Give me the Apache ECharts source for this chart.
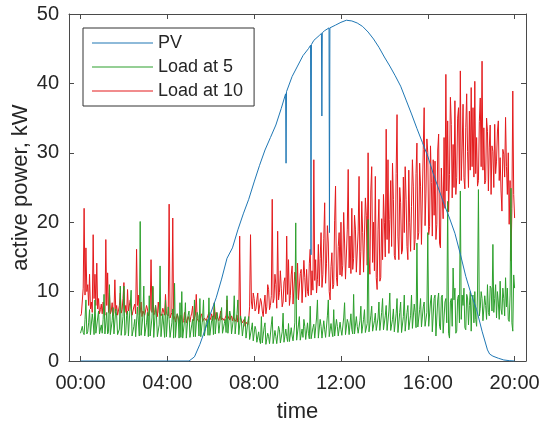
<!DOCTYPE html>
<html>
<head>
<meta charset="utf-8">
<script src="https://cdn.jsdelivr.net/npm/echarts@6/dist/echarts.min.js"></script>
<style>
html,body{margin:0;padding:0;background:#fff;}
#chart{width:540px;height:424px;}
</style>
</head>
<body>
<div id="chart"></div>
<script>
// ---- data (hours of day, kW) ----
const xTickHours = [0, 4, 8, 12, 16, 20];
const xTickLabels = ['00:00', '04:00', '08:00', '12:00', '16:00', '20:00'];
const yTicks = [0, 10, 20, 30, 40, 50];
const seriesNames = ['PV', 'Load at 5', 'Load at 10'];

// PV: sample times (h) and power (kW)
const pvTimes = [0, 5.0, 5.25, 5.5, 5.75, 6.0, 6.25, 6.5, 6.75, 7.0, 7.25, 7.5, 7.75, 8.0, 8.25, 8.5, 8.75, 9.0, 9.25, 9.45, 9.47, 9.49,
  9.75, 10.0, 10.25, 10.5, 10.6, 10.62, 10.64, 10.75, 11.0, 11.1, 11.12, 11.14, 11.25, 11.45, 11.47, 11.49, 11.75, 12.0, 12.25, 12.5,
  12.75, 13.0, 13.25, 13.5, 13.75, 14.0, 14.25, 14.5, 14.75, 15.0, 15.25, 15.5, 15.75, 16.0, 16.25, 16.5, 16.75, 17.0, 17.25, 17.5,
  17.75, 18.0, 18.25, 18.5, 18.75, 18.85, 19.0, 19.25, 19.5, 19.75, 20.0];
const pvValues = [0, 0, 0.6, 2.4, 4.6, 6.9, 9.1, 11.8, 14.8, 16.3, 18.9, 21.2, 23.3, 25.8, 28.2, 30.4, 32.2, 34.0, 36.4, 38.5, 28.5, 38.8,
  41.0, 42.5, 44.0, 45.0, 45.5, 15.3, 45.6, 46.2, 46.9, 47.2, 35.3, 47.3, 47.6, 48.0, 18.5, 48.0, 48.4, 48.8, 49.1, 49.0,
  48.7, 48.2, 47.4, 46.4, 45.2, 43.8, 42.5, 41.1, 39.6, 37.6, 35.6, 33.5, 31.5, 29.5, 27.0, 24.8, 22.6, 20.6, 18.4, 15.4,
  12.2, 9.6, 7.4, 4.3, 1.6, 1.0, 0.7, 0.4, 0.15, 0.05, 0];

// Loads: one value every 2.5 minutes from 00:00 to 20:00 (24 per hour)
const loadStepMinutes = 2.5;
const load5 = [
  4.0,3.8, 5.0,4.1, 3.8,6.0, 8.8,3.9, 4.2,5.5, 7.4,3.8, 3.9,6.8, 5.6,3.8, 8.8,4.0, 4.0,6.2, 7.2,3.9, 3.8,5.2,
  4.0,6.0, 9.6,3.9, 4.1,7.0, 3.9,4.2, 11.0,3.8, 4.0,5.8, 7.7,3.9, 3.8,7.5, 6.5,3.8, 4.0,4.6, 10.8,3.7, 3.8,6.4,
  10.8,3.7, 4.0,6.6, 7.2,3.6, 3.7,8.2, 10.2,3.6, 3.6,5.0, 6.0,3.5, 3.7,7.8, 8.0,3.6, 20.1,3.7, 3.8,6.5, 10.8,3.6,
  3.6,5.5, 7.0,3.5, 9.4,3.6, 3.5,6.2, 10.8,3.4, 3.6,8.0, 6.5,3.5, 3.5,5.2, 13.7,3.5, 3.6,6.8, 7.0,3.4, 8.8,3.5,
  3.5,7.8, 6.0,3.4, 3.4,5.5, 7.5,3.3, 11.2,3.4, 3.4,6.8, 6.2,3.3, 8.4,3.4, 10.0,3.3, 3.3,5.8, 8.4,3.3, 3.4,6.6,
  7.2,3.4, 3.4,5.2, 6.0,3.5, 8.8,3.5, 3.5,7.0, 6.5,3.6, 9.0,3.5, 3.5,6.2, 8.8,3.6, 3.6,5.5, 6.0,3.7, 9.1,3.7,
  3.7,5.8, 6.5,3.8, 8.4,3.9, 3.8,7.0, 6.0,4.0, 4.0,6.6, 7.7,4.0, 4.0,5.4, 6.0,4.1, 9.4,4.0, 4.0,7.2, 6.5,3.9,
  4.0,6.0, 9.4,3.9, 3.9,6.8, 8.8,3.8, 3.7,6.5, 5.5,3.6, 3.5,5.8, 6.4,3.3, 3.3,5.6, 6.4,3.1, 3.0,4.6, 5.5,2.9,
  2.8,5.0, 4.5,2.7, 2.6,4.2, 3.0,2.5, 6.4,2.6, 2.5,4.8, 5.5,2.4, 2.4,4.0, 3.5,2.5, 2.5,5.2, 6.4,2.5, 2.6,4.4,
  3.5,2.5, 2.4,5.0, 4.5,2.6, 2.6,4.2, 6.9,2.7, 2.7,4.6, 3.5,2.8, 5.4,2.8, 2.8,4.8, 3.6,2.9, 2.8,5.5, 19.9,3.0,
  3.0,5.2, 6.4,3.0, 3.0,4.6, 3.4,6.0, 5.0,3.1, 3.1,5.5, 4.0,3.2, 7.9,3.2, 3.2,4.8, 5.3,3.3, 3.4,6.2, 8.8,3.3,
  3.4,6.0, 5.0,3.3, 3.3,5.8, 4.5,3.4, 3.5,6.5, 8.8,3.5, 3.6,5.4, 4.2,3.5, 7.4,3.6, 3.5,6.0, 5.0,3.6, 3.6,5.6,
  4.5,3.7, 3.7,6.2, 8.4,3.8, 3.8,6.0, 5.5,3.8, 3.8,6.8, 4.5,3.9, 9.6,3.9, 3.9,6.4, 5.0,4.0, 4.0,5.8, 7.9,4.0,
  4.0,6.0, 7.4,4.1, 4.1,5.4, 20.4,4.2, 4.2,6.5, 7.9,4.3, 4.3,5.8, 6.9,4.4, 4.5,6.2, 8.5,4.4, 4.3,7.0, 9.0,4.5,
  4.5,6.5, 8.0,4.4, 4.4,7.2, 9.8,4.4, 4.3,6.0, 7.5,4.2, 4.0,6.8, 9.0,4.1, 4.2,7.0, 8.5,4.1, 4.0,6.4, 9.5,4.3,
  4.5,7.0, 8.0,4.5, 4.6,6.6, 9.5,4.7, 4.8,8.2, 7.0,4.8, 17.0,4.9, 4.8,7.4, 9.0,4.9, 5.0,7.8, 8.5,5.0, 5.0,7.0,
  18.5,5.0, 5.2,8.5, 9.5,4.2, 4.0,9.0, 9.5,3.6, 3.5,8.8, 9.8,5.0, 4.5,9.2, 9.5,4.0, 3.8,8.5, 9.0,5.5, 23.0,4.0,
  3.3,8.5, 9.0,5.0, 13.4,8.8, 10.5,4.0, 4.3,9.0, 9.5,5.5, 24.5,6.0, 9.5,8.0, 10.5,4.8, 4.5,9.6, 9.1,5.2, 8.0,10.0,
  4.3,9.0, 9.5,5.5, 10.0,6.0, 5.0,9.8, 24.7,6.5, 7.6,10.0, 9.0,5.8, 5.7,9.4, 8.0,6.0, 11.0,7.0, 6.5,10.8, 10.5,7.2,
  16.8,7.0, 9.0,11.0, 6.2,10.0, 8.5,6.0, 11.5,7.5, 6.7,10.5, 9.0,6.5, 12.0,7.8, 10.5,6.0, 5.7,9.5, 24.9,5.5, 4.3,12.4,
  10.5
];
const load10 = [
  6.5,6.8, 7.0,10.5, 22.0,9.5, 16.3,10.0, 11.0,8.0, 12.5,7.5, 8.5,7.0, 18.2,9.0, 12.5,8.0, 14.1,7.5, 9.0,6.8, 7.4,8.2,
  6.8,8.5, 7.5,6.6, 17.5,8.0, 12.7,7.0, 9.8,6.8, 7.2,8.4, 6.5,7.0, 11.7,7.2, 8.0,6.6, 6.8,8.0, 9.8,6.9, 7.4,9.0,
  11.3,7.0, 8.0,6.7, 10.3,7.2, 7.0,8.8, 7.5,6.6, 6.8,7.8, 8.2,6.8, 16.1,8.0, 9.5,6.7, 7.0,8.5, 6.4,7.2, 7.2,6.6,
  6.8,8.0, 7.5,6.5, 6.4,7.4, 14.6,7.0, 10.6,6.6, 7.0,8.0, 6.9,6.4, 8.5,7.0, 7.2,6.5, 6.8,7.6, 7.4,6.6, 9.6,6.8,
  7.0,6.5, 22.6,6.2, 6.0,7.0, 20.6,6.0, 6.4,5.6, 5.8,6.8, 6.2,5.4, 5.5,6.6, 6.4,5.5, 5.8,7.0, 6.5,5.5, 5.6,6.4,
  6.0,5.6, 6.4,6.9, 7.9,5.8, 6.2,6.6, 9.6,6.1, 6.0,5.6, 5.9,6.5, 6.8,5.7, 5.6,6.2, 6.3,5.8, 6.0,6.6, 7.0,5.9,
  6.2,6.8, 5.8,6.3, 8.4,6.0, 7.0,6.4, 6.1,5.8, 6.5,7.2, 5.9,6.2, 6.3,5.8, 6.0,6.6, 8.8,6.1, 6.4,5.9, 6.0,6.5,
  5.8,6.4, 6.2,5.7, 6.0,6.6, 5.6,6.0, 18.0,6.2, 6.4,5.5, 5.4,6.0, 5.0,5.6, 5.8,5.2, 6.0,7.8, 18.2,8.5, 7.5,9.8,
  9.0,7.2, 7.5,8.8, 9.8,6.8, 7.0,9.0, 8.5,7.2, 6.4,8.2, 9.5,6.8, 7.8,11.0, 10.3,7.4, 8.0,9.4, 23.3,8.4, 9.0,12.5,
  11.0,7.6, 18.7,8.8, 9.9,13.0, 10.5,7.8, 8.5,11.4, 12.0,8.5, 18.0,9.6, 14.6,8.0, 9.4,12.4, 13.7,8.2, 8.4,12.8, 11.5,9.0,
  14.1,8.8, 9.0,12.6, 13.2,8.4, 8.5,14.5, 12.0,9.2, 13.2,10.0, 9.4,14.0, 16.1,9.5, 13.0,10.2, 29.0,11.6, 14.6,9.8, 11.7,16.8,
  10.8,14.8, 18.5,10.6, 12.5,17.6, 22.8,11.2, 14.0,19.5, 17.0,10.0, 8.8,13.6, 15.6,10.4, 11.0,20.2, 25.2,12.0, 10.8,16.5, 18.5,12.4,
  20.0,12.2, 13.8,21.4, 17.0,11.8, 12.0,19.0, 27.6,13.4, 18.0,12.6, 22.0,13.2, 14.8,21.0, 19.0,12.8, 13.0,18.6, 26.6,12.4, 15.8,23.0,
  18.5,12.8, 13.0,23.5, 21.0,13.8, 30.0,15.0, 12.5,24.5, 28.0,14.2, 20.0,13.0, 26.6,12.0, 10.3,19.0, 23.3,11.5, 12.0,20.5, 14.6,24.0,
  20.0,15.0, 33.4,17.5, 29.0,15.5, 20.4,26.0, 16.5,28.5, 23.3,15.2, 14.6,27.0, 35.5,18.0, 14.6,25.0, 22.8,15.4, 16.0,26.5, 18.5,28.0,
  23.3,16.5, 14.6,27.5, 20.0,15.8, 22.3,29.0, 25.2,16.0, 17.5,27.0, 31.4,17.5, 18.5,28.5, 25.2,16.8, 17.0,30.5, 36.5,19.5, 24.2,32.0,
  30.0,18.2, 19.4,31.0, 25.7,18.0, 29.0,21.0, 28.8,17.5, 19.7,30.4, 32.7,17.0, 16.3,27.8, 23.5,20.5, 32.2,22.0, 41.3,24.5, 34.6,21.5,
  26.9,38.0, 34.1,23.5, 31.2,25.0, 37.5,24.0, 26.4,35.0, 36.5,25.5, 41.8,26.0, 30.7,37.0, 26.4,24.8, 33.6,38.5, 30.2,25.0, 36.0,27.5,
  39.4,28.0, 36.5,26.5, 40.3,27.0, 32.2,25.2, 26.0,34.5, 37.9,28.0, 43.2,27.5, 33.6,25.5, 26.0,35.0, 33.1,24.5, 30.7,34.0, 24.0,31.0,
  30.2,25.0, 34.1,27.0, 28.8,33.0, 34.6,26.0, 29.3,24.5, 21.6,30.5, 29.8,26.5, 35.1,28.0, 24.0,30.0, 19.7,26.0, 14.4,22.0, 38.9,24.0,
  20.6
];

// ---- chart ----
const loadTimes = load10.map((_, i) => i * loadStepMinutes / 60);
const pair = (ts, vs) => ts.map((t, i) => [t, vs[i]]);
const fmtX = v => {
  const k = xTickHours.findIndex(h => Math.abs(h - v) < 1e-6);
  return k >= 0 ? xTickLabels[k] : '';
};
const AX = '#4a4a4a';
const TXT = '#262626';
const FONT = 'Liberation Sans, Arial, Helvetica, sans-serif';

const baseX = {
  type: 'value', min: -0.53, max: 20.525,
  splitLine: { show: false },
  axisLine: { show: true, onZero: false, lineStyle: { color: AX, width: 1 } },
  axisTick: { show: true, inside: true, length: 5, customValues: xTickHours, lineStyle: { color: AX } },
};
const baseY = {
  type: 'value', min: 0, max: 50, interval: 10,
  splitLine: { show: false },
  axisLine: { show: true, onZero: false, lineStyle: { color: AX, width: 1 } },
  axisTick: { show: true, inside: true, length: 5, lineStyle: { color: AX } },
};

const chart = echarts.init(document.getElementById('chart'), null, { renderer: 'canvas' });
chart.setOption({
  animation: false,
  backgroundColor: '#fff',
  textStyle: { fontFamily: FONT },
  grid: { left: 69, top: 14, right: 14, bottom: 63, containLabel: false, outerBoundsMode: 'none' },
  xAxis: [
    Object.assign({}, baseX, {
      position: 'bottom',
      name: 'time', nameLocation: 'middle', nameGap: 40, nameMoveOverlap: false,
      nameTextStyle: { fontSize: 22, color: TXT, fontFamily: FONT },
      axisLabel: { show: true, customValues: xTickHours, formatter: fmtX, fontSize: 20, color: TXT, margin: 12, fontFamily: FONT, hideOverlap: false }
    }),
    Object.assign({}, baseX, { position: 'top', axisLabel: { show: false } })
  ],
  yAxis: [
    Object.assign({}, baseY, {
      position: 'left',
      name: 'active power, kW', nameLocation: 'middle', nameGap: 37, nameMoveOverlap: false,
      nameTextStyle: { fontSize: 22, color: TXT, fontFamily: FONT },
      axisLabel: { show: true, fontSize: 20, color: TXT, margin: 10, fontFamily: FONT,
        customValues: yTicks }
    }),
    Object.assign({}, baseY, { position: 'right', axisLabel: { show: false } })
  ],
  legend: {
    data: seriesNames,
    orient: 'vertical',
    left: 83, top: 28,
    padding: [6, 11, 6, 9],
    itemGap: 6,
    icon: 'rect',
    itemWidth: 61, itemHeight: 1,
    borderColor: '#333', borderWidth: 1,
    backgroundColor: '#fff',
    textStyle: { fontSize: 18, color: TXT, fontFamily: FONT, lineHeight: 18 }
  },
  series: [
    { name: seriesNames[2], type: 'line', data: pair(loadTimes, load10), symbol: 'none', showSymbol: false,
      lineStyle: { color: '#e41a1c', width: 1 }, itemStyle: { color: '#e41a1c' }, xAxisIndex: 0, yAxisIndex: 0 },
    { name: seriesNames[1], type: 'line', data: pair(loadTimes, load5), symbol: 'none', showSymbol: false,
      lineStyle: { color: '#2ca02c', width: 1 }, itemStyle: { color: '#2ca02c' }, xAxisIndex: 0, yAxisIndex: 0 },
    { name: seriesNames[0], type: 'line', data: pair(pvTimes, pvValues), symbol: 'none', showSymbol: false,
      lineStyle: { color: '#1f77b4', width: 1 }, itemStyle: { color: '#1f77b4' }, xAxisIndex: 0, yAxisIndex: 0 }
  ]
});
</script>
</body>
</html>
